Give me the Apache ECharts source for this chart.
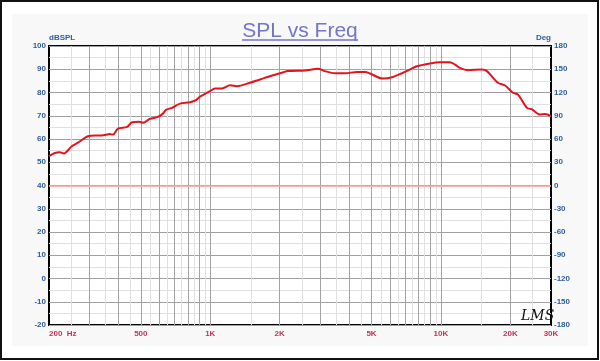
<!DOCTYPE html>
<html>
<head>
<meta charset="utf-8">
<script src="https://cdn.jsdelivr.net/npm/echarts@6/dist/echarts.min.js"></script>
<style>html,body{margin:0;padding:0;background:#fff}#c{width:600px;height:361px}</style>
</head>
<body>
<div id="c"></div>
<script>
const freqHz = [200,212,223,232,251,267,295,317,339,368,379,398,436,458,491,511,548,588,618,643,682,739,817,867,903,997,1049,1125,1218,1306,1486,1643,1816,2046,2173,2576,2931,3143,3475,3839,4327,4690,4923,5610,6196,6847,7875,8960,9902,10940,11510,12070,13090,15060,15830,17670,18970,20520,21580,23610,24820,26860,28250,30000];
const splDb = [52.6,54.0,54.3,53.8,56.9,58.4,61.2,61.5,61.5,62.1,61.9,64.5,65.2,67.2,67.4,67.0,68.7,69.4,70.6,72.5,73.4,75.2,75.8,76.7,78.2,80.6,81.7,81.7,83.1,82.7,84.2,85.6,87.0,88.5,89.2,89.5,90.2,89.2,88.3,88.3,88.8,88.8,88.2,86.0,86.7,88.5,91.3,92.5,93.0,93.0,92.0,90.6,89.6,89.9,89.2,84.2,83.0,79.9,79.1,73.4,72.7,70.5,70.8,69.8];
const xTickValues = [200,500,1000,2000,5000,10000,20000,30000];
const xTickLabels = ['200  Hz','500','1K','2K','5K','10K','20K','30K'];
const majorGridHz = [300,400,500,600,700,800,900,1000,2000,3000,4000,5000,6000,7000,8000,9000,10000,20000];
const minorGridHz = [250,350,450,550,650,750,850,950,1500,2500,3500,4500,5500,6500,7500,8500,9500,15000,25000];
const refLineDb = 40;
const titleText = 'SPL vs Freq';
const leftAxisName = 'dBSPL';
const rightAxisName = 'Deg';

const blue = '#2f5d9d';
const crimson = '#c8325a';
const chart = echarts.init(document.getElementById('c'), null, {renderer:'canvas'});
chart.setOption({
  animation: false,
  backgroundColor: '#fff',
  title: {
    text: titleText, left: 'center', top: 16,
    textStyle: {color:'#7474c8', fontSize:21, fontWeight:'normal', fontFamily:'"Liberation Sans", Arial, sans-serif'}
  },
  graphic: [
    {type:'rect', z:-10, shape:{x:12, y:14, width:576, height:332}, style:{fill:'#f8f8f8'}},
    {type:'rect', z:100, shape:{x:1, y:1, width:597, height:358}, style:{fill:null, stroke:'#111', lineWidth:2}},
    {type:'line', z:100, shape:{x1:242, y1:40, x2:358, y2:40}, style:{stroke:'#7474c8', lineWidth:1.5}},
    {type:'text', z:100, x:521, y:309, style:{text:'LMS', font:'italic 14px "DejaVu Serif", serif', fill:'#111'}}
  ],
  grid: {left:49, right:49, top:46, bottom:36, show:true, backgroundColor:'#fff', borderColor:'#000', borderWidth:2},
  xAxis: [
    {
      type:'log', logBase:10, min:200, max:30000, position:'bottom',
      axisLine:{show:false},
      axisTick:{show:false, customValues: majorGridHz},
      splitLine:{show:true, lineStyle:{color:'#a3a3a3', width:1}},
      axisLabel:{
        customValues: xTickValues,
        alignMinLabel:'left',
        formatter: function(v){ const i = xTickValues.indexOf(Math.round(v)); return i >= 0 ? xTickLabels[i] : ''; },
        color: crimson, fontSize:8, fontWeight:'bold', fontFamily:'"Liberation Sans", Arial, sans-serif', margin:5
      }
    },
    {
      type:'log', logBase:10, min:200, max:30000, position:'top',
      axisLine:{show:false},
      axisTick:{show:false, customValues: minorGridHz},
      axisLabel:{show:false},
      splitLine:{show:true, lineStyle:{color:'#e0e0e0', width:1}}
    }
  ],
  yAxis: [
    {
      type:'value', min:-20, max:100, interval:10, position:'left',
      name:leftAxisName, nameLocation:'end', nameGap:3,
      nameTextStyle:{align:'left', color:blue, fontSize:8, fontWeight:'bold', fontFamily:'"Liberation Sans", Arial, sans-serif'},
      axisLine:{show:false}, axisTick:{show:false},
      axisLabel:{color:blue, fontSize:8, fontWeight:'bold', fontFamily:'"Liberation Sans", Arial, sans-serif', margin:3},
      splitLine:{show:true, lineStyle:{color:'#a0a0a0', width:1}},
      minorTick:{show:false, splitNumber:2},
      minorSplitLine:{show:true, lineStyle:{color:'#e0e0e0', width:1}}
    },
    {
      type:'value', min:-180, max:180, interval:30, position:'right',
      name:rightAxisName, nameLocation:'end', nameGap:3,
      nameTextStyle:{align:'right', color:blue, fontSize:8, fontWeight:'bold', fontFamily:'"Liberation Sans", Arial, sans-serif'},
      axisLine:{show:false}, axisTick:{show:false},
      axisLabel:{color:blue, fontSize:8, fontWeight:'bold', fontFamily:'"Liberation Sans", Arial, sans-serif', margin:3},
      splitLine:{show:false}
    }
  ],
  series: [{
    type:'line', xAxisIndex:0, yAxisIndex:0,
    data: freqHz.map((f,i)=>[f, splDb[i]]),
    symbol:'none', smooth:0.3,
    lineStyle:{color:'#e3141c', width:2},
    itemStyle:{color:'#e3141c'},
    z:5,
    markLine:{
      silent:true, symbol:'none', label:{show:false},
      lineStyle:{color:'#ff9c9c', width:1.5, type:'solid'},
      data:[{yAxis: refLineDb}],
      z:3
    }
  }]
});
</script>
</body>
</html>
